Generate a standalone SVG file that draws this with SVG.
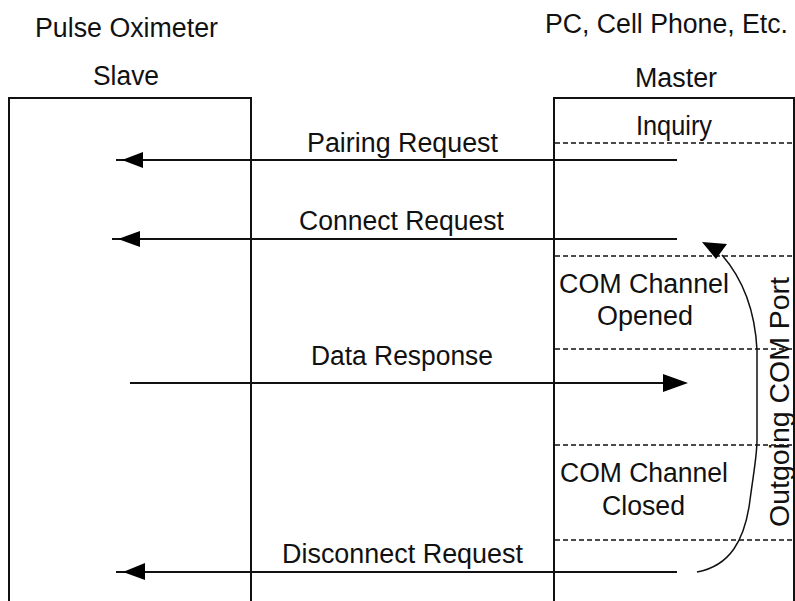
<svg xmlns="http://www.w3.org/2000/svg" width="795" height="601" viewBox="0 0 795 601">
<style>
text{font-family:"Liberation Sans",Arial,sans-serif;font-size:27px;fill:#111}
.box{fill:none;stroke:#111;stroke-width:2}
.msg{stroke:#111;stroke-width:2;fill:none}
.dash{stroke:#111;stroke-width:1.5;stroke-dasharray:5 3;fill:none}
.head{fill:#000}
</style>
<rect width="795" height="601" fill="#fff"/>
<g id="slave">
<text x="35" y="37" textLength="183" lengthAdjust="spacingAndGlyphs">Pulse Oximeter</text>
<text x="93" y="85" textLength="66" lengthAdjust="spacingAndGlyphs">Slave</text>
<path class="box" d="M9,602 V98 H251 V602"/>
</g>
<g id="master">
<text x="545" y="33" textLength="243" lengthAdjust="spacingAndGlyphs">PC, Cell Phone, Etc.</text>
<text x="635" y="87" textLength="82" lengthAdjust="spacingAndGlyphs">Master</text>
<path class="box" d="M554,602 V98 H794 V602"/>
<text x="636" y="135" textLength="76" lengthAdjust="spacingAndGlyphs">Inquiry</text>
<line class="dash" x1="555" y1="143" x2="795" y2="143"/>
<line class="dash" x1="555" y1="256" x2="795" y2="256"/>
<text x="559" y="293" textLength="170" lengthAdjust="spacingAndGlyphs">COM Channel</text>
<text x="597" y="325" textLength="96" lengthAdjust="spacingAndGlyphs">Opened</text>
<line class="dash" x1="555" y1="349" x2="795" y2="349"/>
<line class="dash" x1="555" y1="445" x2="795" y2="445"/>
<text x="560" y="482" textLength="168" lengthAdjust="spacingAndGlyphs">COM Channel</text>
<text x="602" y="515" textLength="83" lengthAdjust="spacingAndGlyphs">Closed</text>
<line class="dash" x1="555" y1="540" x2="795" y2="540"/>
<text x="789" y="527" transform="rotate(-90 789 527)" textLength="250" lengthAdjust="spacingAndGlyphs">Outgoing COM Port</text>
</g>
<g id="connectors">
<g id="pairing">
<line class="msg" x1="677" y1="160" x2="116" y2="160"/>
<polygon class="head" points="122,160 143,152 143,168"/>
<text x="307" y="152" textLength="191" lengthAdjust="spacingAndGlyphs">Pairing Request</text>
</g>
<g id="connect">
<line class="msg" x1="677" y1="239" x2="112" y2="239"/>
<polygon class="head" points="118,239 140,231 140,247"/>
<text x="299" y="230" textLength="205" lengthAdjust="spacingAndGlyphs">Connect Request</text>
</g>
<g id="data">
<line class="msg" x1="130" y1="383" x2="670" y2="383"/>
<polygon class="head" points="688,383 663,374 663,392"/>
<text x="311" y="365" textLength="182" lengthAdjust="spacingAndGlyphs">Data Response</text>
</g>
<g id="disconnect">
<line class="msg" x1="677" y1="572" x2="116" y2="572"/>
<polygon class="head" points="123,572 145,563 145,580"/>
<text x="282" y="563" textLength="241" lengthAdjust="spacingAndGlyphs">Disconnect Request</text>
</g>
<g id="com-port">
<path d="M697,572 C730,566 745,540 750,500 C754,470 757,455 757,440 V350 C755,310 742,278 722,255" fill="none" stroke="#111" stroke-width="1.5"/>
<polygon class="head" points="702,242 727,244 716,259"/>
</g>
</g>
</svg>
